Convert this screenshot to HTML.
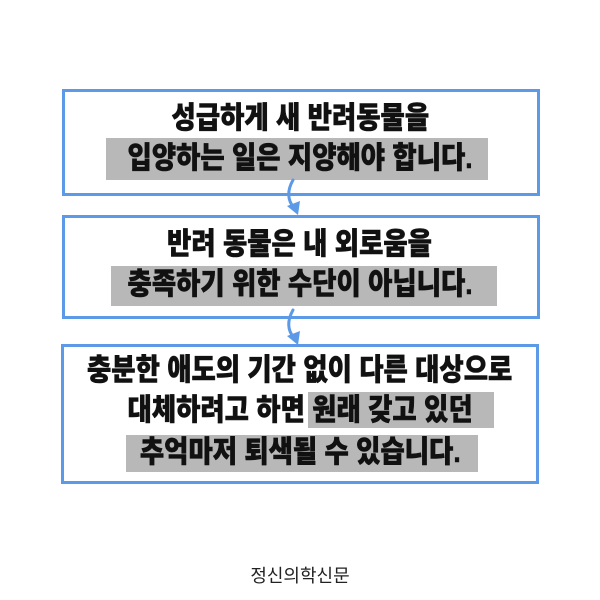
<!DOCTYPE html>
<html><head><meta charset="utf-8"><style>
body{margin:0;background:#fff;width:600px;height:600px;position:relative;overflow:hidden;font-family:"Liberation Sans","Noto Sans CJK KR",sans-serif}
.box{position:absolute;border:3px solid #5c9ae8;box-sizing:border-box;background:#fff}
.g{position:absolute;background:#b8b8b8}
.t{position:absolute;left:0;width:600px;text-align:center;font-weight:900;font-size:30px;line-height:34px;color:#111;white-space:nowrap;-webkit-text-stroke:0.6px #111}
.t span{display:inline-block;transform:scaleX(0.88)}
</style></head><body>
<div class="box" style="left:62px;top:89px;width:478px;height:107px"></div>
<div class="box" style="left:62px;top:215px;width:478px;height:104px"></div>
<div class="box" style="left:61px;top:344px;width:478px;height:140px"></div>
<div class="g" style="left:106px;top:138px;width:382px;height:42px"></div>
<div class="g" style="left:111px;top:266px;width:386px;height:40px"></div>
<div class="g" style="left:308px;top:392px;width:186px;height:36px"></div>
<div class="g" style="left:126px;top:435px;width:352px;height:37px"></div>
<div class="t" style="top:102px"><span>성급하게 새 반려동물을</span></div>
<div class="t" style="top:142px"><span>입양하는 일은 지양해야 합니다.</span></div>
<div class="t" style="top:228px"><span>반려 동물은 내 외로움을</span></div>
<div class="t" style="top:268px"><span>충족하기 위한 수단이 아닙니다.</span></div>
<div class="t" style="top:354px"><span>충분한 애도의 기간 없이 다른 대상으로</span></div>
<div class="t" style="top:394px"><span>대체하려고 하면 원래 갖고 있던</span></div>
<div class="t" style="top:436px"><span>추억마저 퇴색될 수 있습니다.</span></div>
<svg width="600" height="600" style="position:absolute;left:0;top:0">
<g fill="none" stroke="#5c9ae8" stroke-width="3" stroke-linecap="round">
<path d="M293 180 Q284 196 294 208"/>
<path d="M293 310 Q284 326 294 338"/>
</g>
<g fill="#5c9ae8">
<polygon points="287,206 300,201 298,215"/>
<polygon points="287,336 300,331 298,345"/>
</g>
</svg>
<div style="position:absolute;left:0;width:600px;top:562px;text-align:center;font-size:18px;color:#222">정신의학신문</div>
</body></html>
